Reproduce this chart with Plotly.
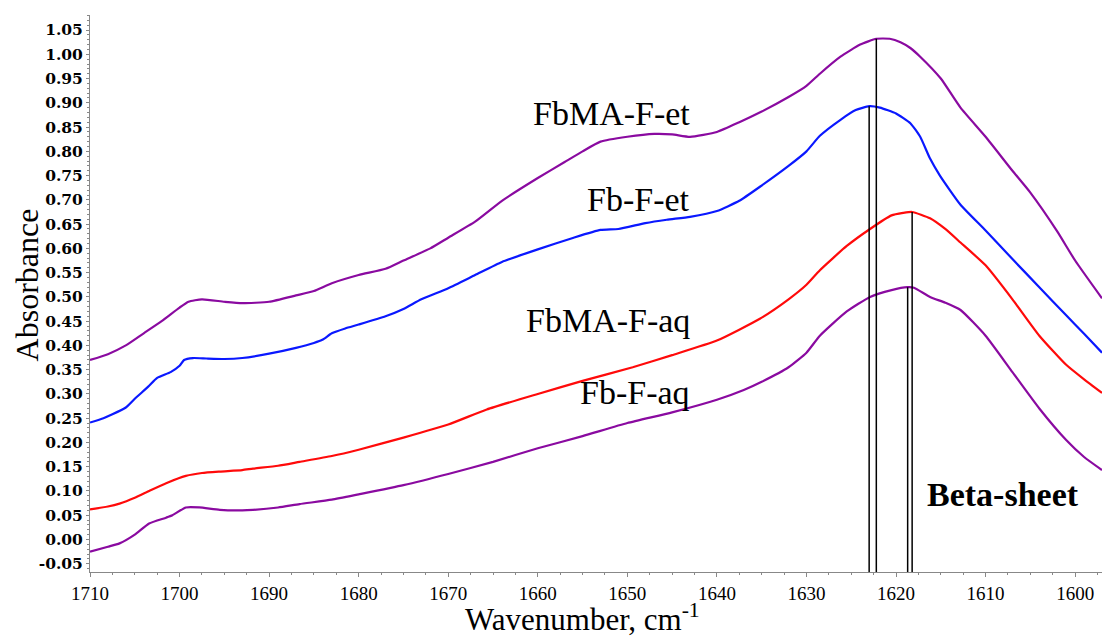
import plotly.graph_objects as go

# ---------------- data ----------------
wn_fbma_et = [1710, 1708, 1706, 1704, 1702, 1700, 1699, 1697.5, 1695, 1693, 1690, 1687, 1685, 1683, 1680,
              1677, 1675, 1672, 1670, 1667, 1664, 1660, 1657, 1655, 1653, 1650, 1647, 1645, 1643, 1640,
              1637.5, 1635, 1632, 1630, 1628.5, 1626.2, 1624, 1622.2, 1620.7, 1619.5, 1618.4, 1617.3,
              1615, 1612.8, 1610, 1607, 1605, 1602, 1600, 1597]
ab_fbma_et = [0.370, 0.382, 0.400, 0.425, 0.450, 0.478, 0.490, 0.495, 0.490, 0.487, 0.490, 0.503, 0.512, 0.528, 0.545,
              0.558, 0.575, 0.600, 0.622, 0.655, 0.698, 0.745, 0.778, 0.800, 0.820, 0.830, 0.836, 0.835, 0.830, 0.840,
              0.860, 0.882, 0.912, 0.935, 0.960, 0.995, 1.020, 1.032, 1.032, 1.025, 1.013, 0.995,
              0.950, 0.890, 0.830, 0.760, 0.715, 0.635, 0.575, 0.497]

wn_fb_et = [1710, 1708.5, 1707.5, 1706, 1705, 1703.5, 1702.5, 1701, 1700, 1699.5, 1698.5, 1697, 1695, 1693, 1690,
            1687, 1685, 1684, 1683, 1681.5, 1680, 1677, 1675, 1673, 1670, 1667, 1664, 1660, 1656, 1653, 1651,
            1648, 1645.6, 1643, 1640, 1637.5, 1635.2, 1632, 1630, 1628.5, 1626.2, 1624.5, 1623.0, 1621.8, 1620,
            1618.4, 1617.3, 1616.2, 1615.1, 1612.8, 1610, 1607, 1604, 1601, 1599, 1597]
ab_fb_et = [0.241, 0.250, 0.258, 0.272, 0.290, 0.315, 0.333, 0.345, 0.358, 0.370, 0.374, 0.373, 0.372, 0.374, 0.383,
            0.395, 0.405, 0.412, 0.425, 0.435, 0.443, 0.460, 0.475, 0.495, 0.518, 0.545, 0.572, 0.598, 0.622, 0.638, 0.640,
            0.652, 0.659, 0.665, 0.677, 0.698, 0.727, 0.770, 0.800, 0.832, 0.865, 0.885, 0.893, 0.890, 0.878,
            0.858, 0.830, 0.785, 0.750, 0.690, 0.637, 0.578, 0.520, 0.462, 0.424, 0.385]

wn_fbma_aq = [1710, 1708, 1706.7, 1705, 1703.4, 1701.5, 1699.3, 1697.5, 1695.5, 1693, 1691.8, 1689, 1686.6, 1683,
              1680, 1675, 1670, 1665.7, 1660, 1655, 1649.4, 1645, 1640, 1635.2, 1632, 1630, 1628.5, 1625.5,
              1622.9, 1620.5, 1619.2, 1618.2, 1616.2, 1614.5, 1612.8, 1610, 1607, 1604, 1601, 1599, 1597]
ab_fbma_aq = [0.062, 0.068, 0.074, 0.086, 0.100, 0.116, 0.131, 0.137, 0.140, 0.143, 0.146, 0.152, 0.160, 0.172,
              0.185, 0.210, 0.237, 0.268, 0.300, 0.327, 0.355, 0.380, 0.410, 0.455, 0.495, 0.525, 0.555, 0.605,
              0.640, 0.668, 0.673, 0.675, 0.662, 0.640, 0.612, 0.565, 0.495, 0.420, 0.360, 0.330, 0.302]

wn_fb_aq = [1710, 1708, 1706.7, 1705, 1703.4, 1701.5, 1700.8, 1699.3, 1697.8, 1695.5, 1693, 1691.8, 1689, 1686.6,
            1683, 1680, 1675, 1670, 1665, 1660, 1655, 1650, 1645, 1640, 1637, 1635, 1632, 1630, 1628.5, 1625.5,
            1622.9, 1620.5, 1618.7, 1618, 1616.2, 1614.5, 1612.8, 1610, 1607, 1604, 1601, 1599, 1597]
ab_fb_aq = [-0.025, -0.015, -0.008, 0.010, 0.033, 0.045, 0.050, 0.066, 0.066, 0.061, 0.060, 0.061, 0.066, 0.073,
            0.082, 0.093, 0.112, 0.135, 0.160, 0.188, 0.213, 0.240, 0.262, 0.288, 0.308, 0.325, 0.355, 0.385, 0.420, 0.470,
            0.500, 0.514, 0.520, 0.519, 0.500, 0.488, 0.473, 0.420, 0.345, 0.270, 0.205, 0.170, 0.143]

# peak marker lines (position, height)
peak_wn = [1623.0, 1622.2, 1618.7, 1618.2]
peak_ab = [0.893, 1.032, 0.520, 0.675]

labels = ["FbMA-F-et", "Fb-F-et", "FbMA-F-aq", "Fb-F-aq"]
label_ab = [0.878, 0.700, 0.452, 0.302]
label_wn = 1642.8

x_ticks = [1710, 1700, 1690, 1680, 1670, 1660, 1650, 1640, 1630, 1620, 1610, 1600]
y_ticks = [round(-0.05 + 0.05 * i, 2) for i in range(23)]

PURPLE = "#8a0aa0"
BLUE = "#0a18ff"
RED = "#ff0a0a"
FONT = "Liberation Serif"

Y_MIN, Y_MAX = -0.067, 1.081

fig = go.Figure()
for wn, ab, col in [(wn_fbma_et, ab_fbma_et, PURPLE), (wn_fb_et, ab_fb_et, BLUE),
                    (wn_fbma_aq, ab_fbma_aq, RED), (wn_fb_aq, ab_fb_aq, PURPLE)]:
    fig.add_trace(go.Scatter(x=wn, y=ab, mode="lines", line=dict(color=col, width=2.2, shape="spline", smoothing=0.5),
                             showlegend=False, hoverinfo="skip"))

for pw, pa in zip(peak_wn, peak_ab):
    fig.add_trace(go.Scatter(x=[pw, pw], y=[Y_MIN, pa], mode="lines", line=dict(color="black", width=1.5),
                             showlegend=False, hoverinfo="skip"))

ann = []
for lab, la in zip(labels, label_ab):
    ann.append(dict(x=label_wn, y=la, xref="x", yref="y", text=lab, showarrow=False, xanchor="right",
                    yanchor="middle", font=dict(family=FONT, size=34, color="black")))
ann.append(dict(x=1616.8, y=0.092, xref="x", yref="y", text="<b>Beta-sheet</b>", showarrow=False, xanchor="left",
                yanchor="middle", font=dict(family=FONT, size=34, color="black")))
ann.append(dict(x=-0.062, y=0.515, xref="paper", yref="paper", text="Absorbance", textangle=-90, showarrow=False,
                xanchor="center", yanchor="middle", font=dict(family=FONT, size=32, color="black")))
ann.append(dict(x=0.4862, y=-0.0808, xref="paper", yref="paper", text="Wavenumber, cm<sup>-1</sup>", showarrow=False,
                xanchor="center", yanchor="middle", borderpad=0, font=dict(family=FONT, size=31, color="black")))

fig.update_layout(
    width=1102, height=637,
    margin=dict(l=90, r=0, t=15, b=65),
    paper_bgcolor="white", plot_bgcolor="white",
    annotations=ann,
    xaxis=dict(range=[1710, 1597], tickvals=x_ticks, ticktext=[str(v) for v in x_ticks],
               showgrid=False, zeroline=False, showline=True, linecolor="#888888", linewidth=1,
               ticks="outside", ticklen=4, tickcolor="#888888",
               minor=dict(dtick=2.5, ticks="outside", ticklen=2, tickcolor="#888888"),
               tickfont=dict(family=FONT, size=19, color="black")),
    yaxis=dict(range=[Y_MIN, Y_MAX], tickvals=y_ticks, ticktext=["%.2f" % v for v in y_ticks],
               showgrid=False, zeroline=False, showline=True, linecolor="#888888", linewidth=1,
               ticks="outside", ticklen=3, tickcolor="#888888", ticklabelstandoff=0,
               minor=dict(dtick=0.01, ticks="outside", ticklen=2, tickcolor="#888888"),
               tickfont=dict(family="DejaVu Serif", size=15.5, color="black", weight="bold")),
)

fig.write_html("out.html", config={"displayModeBar": False, "staticPlot": True})

# remove the default page margin so the figure sits at the window's top-left corner
with open("out.html", "r", encoding="utf-8") as f:
    html = f.read()
html = html.replace("<head>", "<head><style>html,body{margin:0;padding:0;overflow:hidden;}</style>", 1)
with open("out.html", "w", encoding="utf-8") as f:
    f.write(html)
